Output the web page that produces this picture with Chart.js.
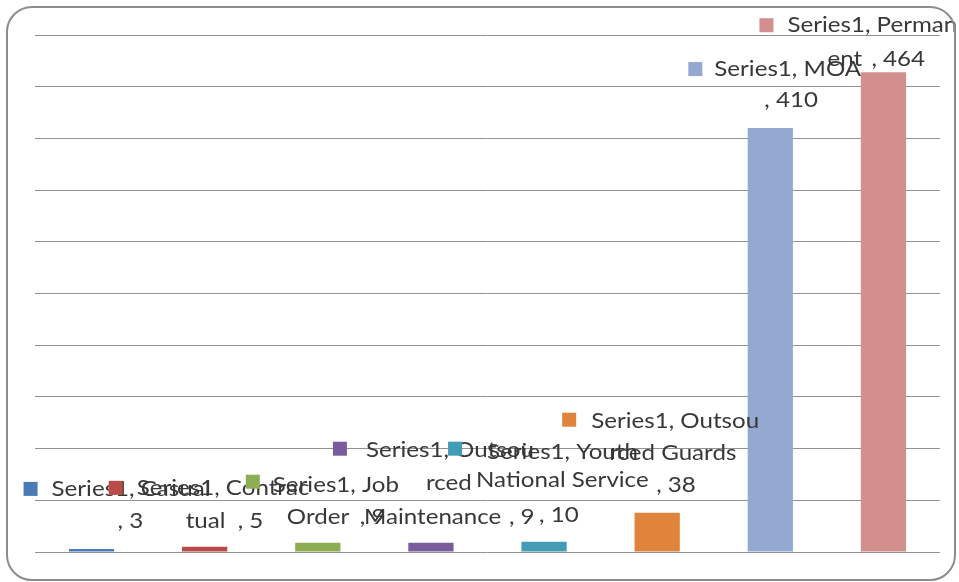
<!DOCTYPE html>
<html>
<head>
<meta charset="utf-8">
<script src="https://cdn.jsdelivr.net/npm/chart.js@4"></script>
<style>
    body { margin: 0; background: #fff; }
    #wrap { position: relative; width: 959px; height: 582px; }
    #frame {
        position: absolute; left: 6px; top: 6px; width: 946px; height: 571px;
        border: 2px solid #8c8c8c; border-radius: 26px; pointer-events: none;
    }
</style>
</head>
<body>
<div id="wrap">
    <canvas id="chart" width="959" height="582"></canvas>
    <div id="frame"></div>
</div>
<script>
// data
const categories = ["Casual", "Contractual", "Job Order", "Outsourced Maintenance",
    "Youth National Service", "Outsourced Guards", "MOA", "Permanent"];
const values = [3, 5, 9, 9, 10, 38, 410, 464];
const seriesName = "Series1";
const yTicks = [0, 50, 100, 150, 200, 250, 300, 350, 400, 450, 500];
const barColors = ["#4a7bb7", "#bb4b48", "#8dad52", "#7a5b9c", "#439cb5", "#e0843c", "#93a9d1", "#d38f8e"];

// label layout: how each data label wraps and where it sits relative to its bar
const labelLayout = [
    { sq: [-68, -60], lines: [[seriesName + ", Casual", -40, -60], [", " + values[0], 26, -28]] },
    { sq: [-96, -59], lines: [[seriesName + ", Contrac", -68, -59], ["tual", -19, -26], [", " + values[1], 33, -26]] },
    { sq: [-72, -61], lines: [[seriesName + ", Job", -45, -58], ["Order", -31, -26], [", " + values[2], 42, -26]] },
    { sq: [-98, -94], lines: [[seriesName + ", Outsou", -65, -93], ["rced", -5, -60], ["Maintenance", -67, -26], [", " + values[3], 78, -26]] },
    { sq: [-96, -93], lines: [[seriesName + ", Youth", -57, -90], ["National Service", -68, -62], [", " + values[4], -5, -27]] },
    { sq: [-95, -93], lines: [[seriesName + ", Outsou", -66, -92], ["rced Guards", -48, -60], [", " + values[5], -1, -28]] },
    { sq: [-82, -59], lines: [[seriesName + ", MOA", -56, -59], [", " + values[6], -6, -28]] },
    { sq: [-124, -47], lines: [[seriesName + ", Perman", -96, -47], ["ent", -56, -13], [", " + values[7], -12, -13]] }
];

const dataLabels = {
    id: "dataLabels",
    afterDatasetsDraw(chart) {
        const ctx = chart.ctx;
        const meta = chart.getDatasetMeta(0);
        ctx.save();
        ctx.font = "22px Lato";
        ctx.textBaseline = "middle";
        // fit the width of the original font
        const sx = 168 / ctx.measureText(seriesName + ", Outsou").width;
        meta.data.forEach((bar, i) => {
            const lay = labelLayout[i];
            const cx = bar.x, ty = bar.y;
            ctx.fillStyle = barColors[i];
            ctx.fillRect(cx + lay.sq[0], ty + lay.sq[1] - 7, 14, 14);
            ctx.fillStyle = "#383838";
            lay.lines.forEach(([text, dx, dy]) => {
                ctx.save();
                ctx.translate(cx + dx, ty + dy);
                ctx.scale(sx, 1);
                ctx.fillText(text, 0, 0);
                ctx.restore();
            });
        });
        ctx.restore();
    }
};

new Chart(document.getElementById("chart"), {
    type: "bar",
    data: {
        labels: categories,
        datasets: [{
            label: seriesName,
            data: values,
            backgroundColor: barColors,
            borderWidth: 0,
            categoryPercentage: 1,
            barPercentage: 0.4
        }]
    },
    options: {
        responsive: false,
        animation: false,
        layout: { padding: { left: 35, right: 19, top: 35, bottom: 30 } },
        plugins: { legend: { display: false }, tooltip: { enabled: false } },
        scales: {
            x: { display: false },
            y: {
                min: yTicks[0],
                max: yTicks[yTicks.length - 1],
                afterBuildTicks: scale => { scale.ticks = yTicks.map(v => ({ value: v })); },
                ticks: { display: false },
                grid: { color: "#929292", lineWidth: 1, drawTicks: false },
                border: { display: false }
            }
        }
    },
    plugins: [dataLabels]
});
</script>
</body>
</html>
